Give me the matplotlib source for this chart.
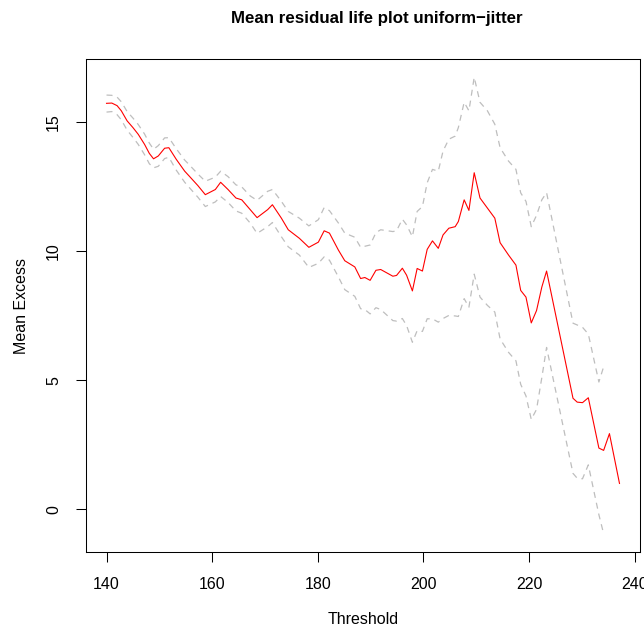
import matplotlib
matplotlib.use("Agg")
import matplotlib.pyplot as plt
import numpy as np

# Thresholds (x) and mean excess with 95% CI bounds
threshold = [140.0, 141.0, 142.0, 142.8, 143.9, 145.0, 146.0, 147.2, 148.1, 148.9,
             149.8, 151.0, 151.8, 153.2, 154.8, 155.7, 157.3, 158.7, 160.6, 161.6,
             163.0, 164.5, 165.6, 167.2, 168.5, 170.5, 171.4, 173.1, 174.4, 176.5,
             178.3, 180.1, 181.2, 182.2, 183.9, 185.1, 187.0, 188.1, 188.9, 189.9,
             191.0, 191.9, 194.2, 194.9, 196.0, 196.8, 197.9, 198.8, 199.8, 200.7,
             201.7, 202.8, 203.7, 204.8, 206.0, 206.6, 207.7, 208.6, 209.6, 210.7,
             212.1, 213.5, 214.5, 216.1, 217.5, 218.4, 219.4, 220.4, 221.4, 222.4,
             223.3, 228.3, 229.1, 230.1, 231.2, 233.2, 234.1, 235.2, 237.1]
mean_excess = [15.74, 15.75, 15.65, 15.45, 15.06, 14.80, 14.54, 14.15, 13.80, 13.59,
               13.70, 14.00, 14.02, 13.57, 13.11, 12.91, 12.55, 12.20, 12.40, 12.68,
               12.40, 12.07, 12.00, 11.62, 11.31, 11.62, 11.81, 11.29, 10.84, 10.51,
               10.16, 10.36, 10.80, 10.71, 10.05, 9.64, 9.40, 8.95, 8.99, 8.88,
               9.27, 9.30, 9.04, 9.07, 9.35, 9.08, 8.47, 9.34, 9.24, 10.08,
               10.41, 10.12, 10.64, 10.90, 10.96, 11.16, 12.00, 11.59, 13.05, 12.07,
               11.68, 11.29, 10.34, 9.86, 9.47, 8.49, 8.23, 7.23, 7.71, 8.62,
               9.24, 4.31, 4.16, 4.14, 4.33, 2.38, 2.29, 2.94, 1.01]
upper_ci = [16.06, 16.05, 15.98, 15.80, 15.42, 15.17, 14.92, 14.55, 14.20, 13.96,
            14.10, 14.40, 14.41, 13.98, 13.54, 13.35, 13.00, 12.72, 12.88, 13.11,
            12.90, 12.58, 12.50, 12.15, 11.98, 12.33, 12.40, 11.94, 11.55, 11.29,
            10.99, 11.23, 11.70, 11.58, 11.10, 10.71, 10.55, 10.16, 10.20, 10.25,
            10.73, 10.84, 10.77, 10.80, 11.25, 11.03, 10.57, 11.55, 11.74, 12.66,
            13.18, 13.11, 13.89, 14.35, 14.47, 14.80, 15.78, 15.45, 16.75, 15.78,
            15.45, 14.93, 14.02, 13.50, 13.18, 12.27, 11.94, 10.96, 11.40, 12.00,
            12.28, 7.22, 7.15, 7.06, 6.80, 4.94, 5.53]
lower_ci = [15.40, 15.42, 15.30, 15.10, 14.70, 14.42, 14.15, 13.75, 13.40, 13.24,
            13.30, 13.60, 13.65, 13.15, 12.68, 12.47, 12.10, 11.74, 11.92, 12.13,
            11.90, 11.57, 11.48, 11.10, 10.70, 10.96, 11.12, 10.57, 10.18, 9.86,
            9.38, 9.54, 9.79, 9.66, 9.01, 8.52, 8.26, 7.78, 7.75, 7.58,
            7.82, 7.75, 7.32, 7.30, 7.40, 7.13, 6.48, 6.93, 6.90, 7.39,
            7.39, 7.26, 7.40, 7.52, 7.50, 7.48, 8.17, 7.84, 9.12, 8.23,
            7.91, 7.65, 6.61, 6.09, 5.76, 4.85, 4.40, 3.49, 3.88, 5.11,
            6.28, 1.40, 1.21, 1.19, 1.73, -0.20, -0.94]

xticks = [140, 160, 180, 200, 220, 240]
yticks = [0, 5, 10, 15]

plt.rcParams['font.family'] = ['Liberation Sans', 'DejaVu Sans']

fig = plt.figure(figsize=(6.44, 6.30), dpi=100)
ax = fig.add_axes([86/644, 78/630, (640-86)/644, (552-59)/630])

n_ci = len(upper_ci)
ax.plot(threshold, mean_excess, color='red', lw=0.8)
ax.plot(threshold[:n_ci], upper_ci, color='#BEBEBE', lw=0.9, linestyle=(0, (4.8, 4.0)))
ax.plot(threshold[:n_ci], lower_ci, color='#BEBEBE', lw=0.9, linestyle=(0, (4.8, 4.0)))

ax.margins(x=0.04, y=0.04)

ax.set_xticks(xticks)
ax.set_yticks(yticks)
ax.set_xticklabels([str(v) for v in xticks])
ax.set_yticklabels([str(v) for v in yticks], rotation=90, va='center')
ax.tick_params(axis='both', direction='out', length=6.9, width=0.75, labelsize=11.5,
               color='black')
ax.tick_params(axis='x', pad=11)
ax.tick_params(axis='y', pad=11)
for s in ax.spines.values():
    s.set_linewidth(0.75)
    s.set_color('black')

ax.set_xlabel('Threshold', fontsize=11.5)
ax.set_ylabel('Mean Excess', fontsize=11.5)
ax.xaxis.set_label_coords(0.5, -(620-552)/493, transform=ax.transAxes)
ax.yaxis.set_label_coords(-(86-22)/554, 0.5, transform=ax.transAxes)
ax.xaxis.label.set_va('center')
ax.yaxis.label.set_va('center')

title = ax.set_title('Mean residual life plot uniform\u2212jitter', fontsize=12.2,
                     fontweight='bold', y=1 + (59-18)/493, va='center', pad=0)
title.set_x((377-86)/554)

fig.savefig('out.png', dpi=100)
